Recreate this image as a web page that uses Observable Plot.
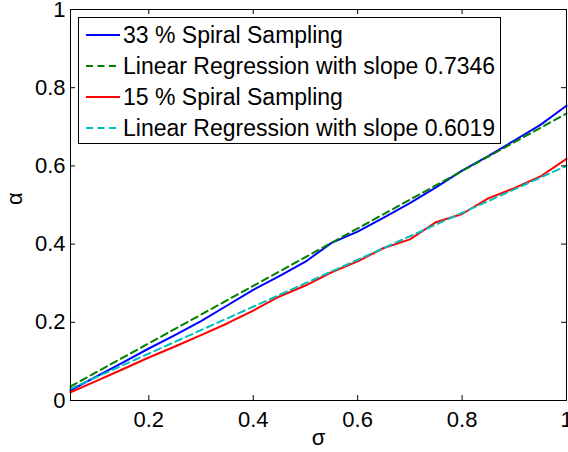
<!DOCTYPE html>
<html><head><meta charset="utf-8">
<script src="https://cdn.jsdelivr.net/npm/d3@7"></script>
<script src="https://cdn.jsdelivr.net/npm/@observablehq/plot@0.6"></script>
<style>body{margin:0;background:#fff}#chart{width:568px;height:452px}</style>
</head><body><div id="chart"></div>
<script>
// data
const sigma   = [0.05,0.1,0.15,0.2,0.25,0.3,0.35,0.4,0.45,0.5,0.55,0.6,0.65,0.7,0.75,0.8,0.85,0.9,0.95,1.0];
const alpha33 = [0.026,0.062,0.097,0.133,0.167,0.203,0.243,0.283,0.318,0.355,0.403,0.432,0.468,0.505,0.545,0.588,0.625,0.665,0.705,0.754];
const alpha15 = [0.021,0.050,0.080,0.110,0.138,0.167,0.197,0.230,0.266,0.294,0.328,0.356,0.390,0.412,0.456,0.477,0.517,0.543,0.573,0.618];
const fitX  = [0.05, 1.0];
const fit33 = [0.036, 0.734];
const fit15 = [0.030, 0.600];
const xTicks = [0.2,0.4,0.6,0.8,1];
const yTicks = [0,0.2,0.4,0.6,0.8,1];
const legendLabels = ["33 % Spiral Sampling","Linear Regression with slope 0.7346","15 % Spiral Sampling","Linear Regression with slope 0.6019"];
const legendColors = ["#0000ff","#008000","#ff0000","#00bfbf"];
const legendDashed = [false,true,false,true];
const xLabel = "σ", yLabel = "α";

const FONT = "'Liberation Sans', Arial, Helvetica, sans-serif";
const mL = 70, mR = 2, mT = 9, mB = 52, W = 568, H = 452;
const innerH = H - mT - mB, innerW = W - mL - mR;
const dash = "7,4.5";

const plot = Plot.plot({
  width: W, height: H, marginLeft: mL, marginRight: mR, marginTop: mT, marginBottom: mB,
  style: {fontFamily: FONT, fontSize: "22px", background: "white", color: "black", overflow: "visible"},
  x: {domain: [0.05, 1]},
  y: {domain: [0, 1]},
  marks: [
    Plot.line(sigma, {x: sigma, y: alpha33, stroke: legendColors[0], strokeWidth: 2}),
    Plot.line(fitX, {x: fitX, y: fit33, stroke: legendColors[1], strokeWidth: 2, strokeDasharray: dash}),
    Plot.line(sigma, {x: sigma, y: alpha15, stroke: legendColors[2], strokeWidth: 2}),
    Plot.line(fitX, {x: fitX, y: fit15, stroke: legendColors[3], strokeWidth: 2, strokeDasharray: dash}),
    Plot.frame({stroke: "black", strokeWidth: 1}),
    Plot.tickX(xTicks, {x: d => d, insetTop: innerH - 5, stroke: "black"}),
    Plot.tickX(xTicks, {x: d => d, insetBottom: innerH - 5, stroke: "black"}),
    Plot.tickY(yTicks, {y: d => d, insetRight: innerW - 5, stroke: "black"}),
    Plot.tickY(yTicks, {y: d => d, insetLeft: innerW - 5, stroke: "black"}),
    Plot.axisX(xTicks, {tickSize: 0, tickPadding: 11, tickFormat: d => String(d), label: null, fontSize: 22}),
    Plot.axisY(yTicks, {tickSize: 0, tickPadding: 5, tickFormat: d => String(d), label: null, fontSize: 22}),
    Plot.text([xLabel], {text: d => d, frameAnchor: "bottom", dy: 44, fontSize: 22}),
    Plot.text([yLabel], {text: d => d, frameAnchor: "left", dx: -56, rotate: -90, fontSize: 22})
  ]
});

// legend inside the axes (MATLAB style)
const svg = d3.select(plot);
const lg = svg.append("g").attr("font-family", FONT).attr("font-size", 23).attr("text-anchor", "start");
lg.append("rect").attr("x", 78.5).attr("y", 17.5).attr("width", 422).attr("height", 126)
  .attr("fill", "white").attr("stroke", "black").attr("stroke-width", 1);
legendLabels.forEach((lab, i) => {
  const cy = 35 + i * 31;
  lg.append("line").attr("x1", 86).attr("x2", 120).attr("y1", cy).attr("y2", cy)
    .attr("stroke", legendColors[i]).attr("stroke-width", 2)
    .attr("stroke-dasharray", legendDashed[i] ? dash : null);
  lg.append("text").attr("x", 123).attr("y", cy).attr("dy", "0.36em").attr("fill", "black")
    .attr("text-anchor", "start").text(lab);
});

document.getElementById("chart").appendChild(plot);
</script>
</body></html>
